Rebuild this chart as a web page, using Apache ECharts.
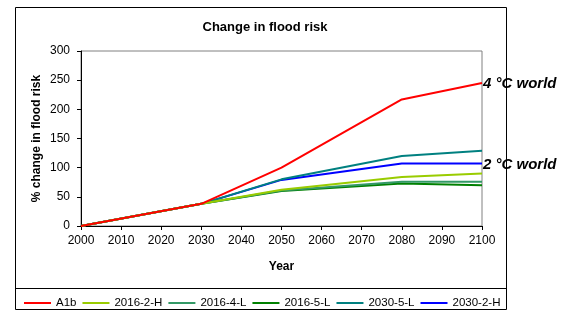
<!DOCTYPE html>
<html lang="en">
<head>
<meta charset="utf-8">
<title>Change in flood risk</title>
<script src="https://cdn.jsdelivr.net/npm/echarts@6/dist/echarts.min.js"></script>
<style>
  html, body { margin: 0; padding: 0; background: #fff; }
  #chart { width: 566px; height: 311px; }
</style>
</head>
<body>
<div id="chart"></div>
<script>
  var years = [2000, 2030, 2050, 2080, 2100];
  var seriesNames = ['A1b', '2016-2-H', '2016-4-L', '2016-5-L', '2030-5-L', '2030-2-H'];
  var a1b = [0, 38, 100, 217, 245];
  var s2016_2H = [0, 38, 62, 84, 90];
  var s2016_4L = [0, 38, 61, 76, 76];
  var s2016_5L = [0, 38, 60, 73, 70];
  var s2030_5L = [0, 38, 80, 120, 129];
  var s2030_2H = [0, 38, 79, 107, 107];
  var colors = ['#ff0000', '#99cc00', '#339966', '#008000', '#008080', '#0000ff'];
  // annotation text and the series it sits next to
  var labels = [{ text: '4\u00a0\u00b0C world', series: 0 }, { text: '2\u00a0\u00b0C world', series: 5 }];

  var allValues = [a1b, s2016_2H, s2016_4L, s2016_5L, s2030_5L, s2030_2H];
  var font = 'Liberation Sans, Arial, sans-serif';

  var chart = echarts.init(document.getElementById('chart'));

  var series = seriesNames.map(function (name, i) {
    var s = {
      name: name,
      type: 'line',
      data: years.map(function (y, k) { return [y, allValues[i][k]]; }),
      showSymbol: false,
      symbol: 'none',
      lineStyle: { color: colors[i], width: 2 },
      itemStyle: { color: colors[i] },
      z: 10 - i
    };
    labels.forEach(function (l) {
      if (l.series !== i) return;
      var last = allValues[i][allValues[i].length - 1];
      s.markPoint = {
        symbol: 'circle',
        symbolSize: 0,
        silent: true,
        data: [{ coord: [years[years.length - 1], last] }],
        label: {
          show: true,
          position: 'right',
          distance: 1,
          offset: [0, 1],
          formatter: l.text,
          fontFamily: font,
          fontSize: 15,
          fontWeight: 'bold',
          fontStyle: 'italic',
          color: '#000'
        }
      };
    });
    return s;
  });

  var option = {
    animation: false,
    title: {
      text: 'Change in flood risk',
      left: 260,
      textAlign: 'center',
      top: 16,
      textStyle: { fontFamily: font, fontSize: 13, fontWeight: 'bold', color: '#000' }
    },
    legend: {
      data: seriesNames,
      left: 19,
      top: 292,
      itemWidth: 27,
      itemHeight: 2,
      itemGap: 6,
      icon: 'rect',
      textStyle: { fontFamily: font, fontSize: 11.5, color: '#000' }
    },
    grid: {
      left: 81, right: 84, top: 51, bottom: 85,
      show: true, borderColor: '#808080', borderWidth: 1
    },
    xAxis: {
      type: 'value',
      min: 2000, max: 2100, interval: 10,
      name: 'Year',
      nameLocation: 'middle',
      nameGap: 35,
      nameTextStyle: { fontFamily: font, fontSize: 12, fontWeight: 'bold', color: '#000' },
      axisLine: { lineStyle: { color: '#000', width: 1 } },
      axisTick: { show: true, length: 4, lineStyle: { color: '#000' } },
      axisLabel: { fontFamily: font, fontSize: 12, color: '#000', margin: 9,
        formatter: function (v) { return String(v); } },
      splitLine: { show: false }
    },
    yAxis: {
      type: 'value',
      min: 0, max: 300, interval: 50,
      name: '% change in flood risk',
      nameLocation: 'middle',
      nameGap: 38,
      nameMoveOverlap: false,
      nameTextStyle: { fontFamily: font, fontSize: 12, fontWeight: 'bold', color: '#000' },
      axisLine: { show: true, lineStyle: { color: '#000', width: 1 } },
      axisTick: { show: true, length: 4, lineStyle: { color: '#000' } },
      axisLabel: { fontFamily: font, fontSize: 12, color: '#000', margin: 11 },
      splitLine: { show: false }
    },
    graphic: [
      {
        type: 'rect',
        shape: { x: 15.5, y: 7.5, width: 491, height: 302 },
        style: { fill: 'none', stroke: '#000', lineWidth: 1 },
        silent: true
      },
      {
        type: 'line',
        shape: { x1: 15.5, y1: 288.5, x2: 506.5, y2: 288.5 },
        style: { stroke: '#000', lineWidth: 1 },
        silent: true
      }
    ],
    series: series
  };

  chart.setOption(option);
</script>
</body>
</html>
